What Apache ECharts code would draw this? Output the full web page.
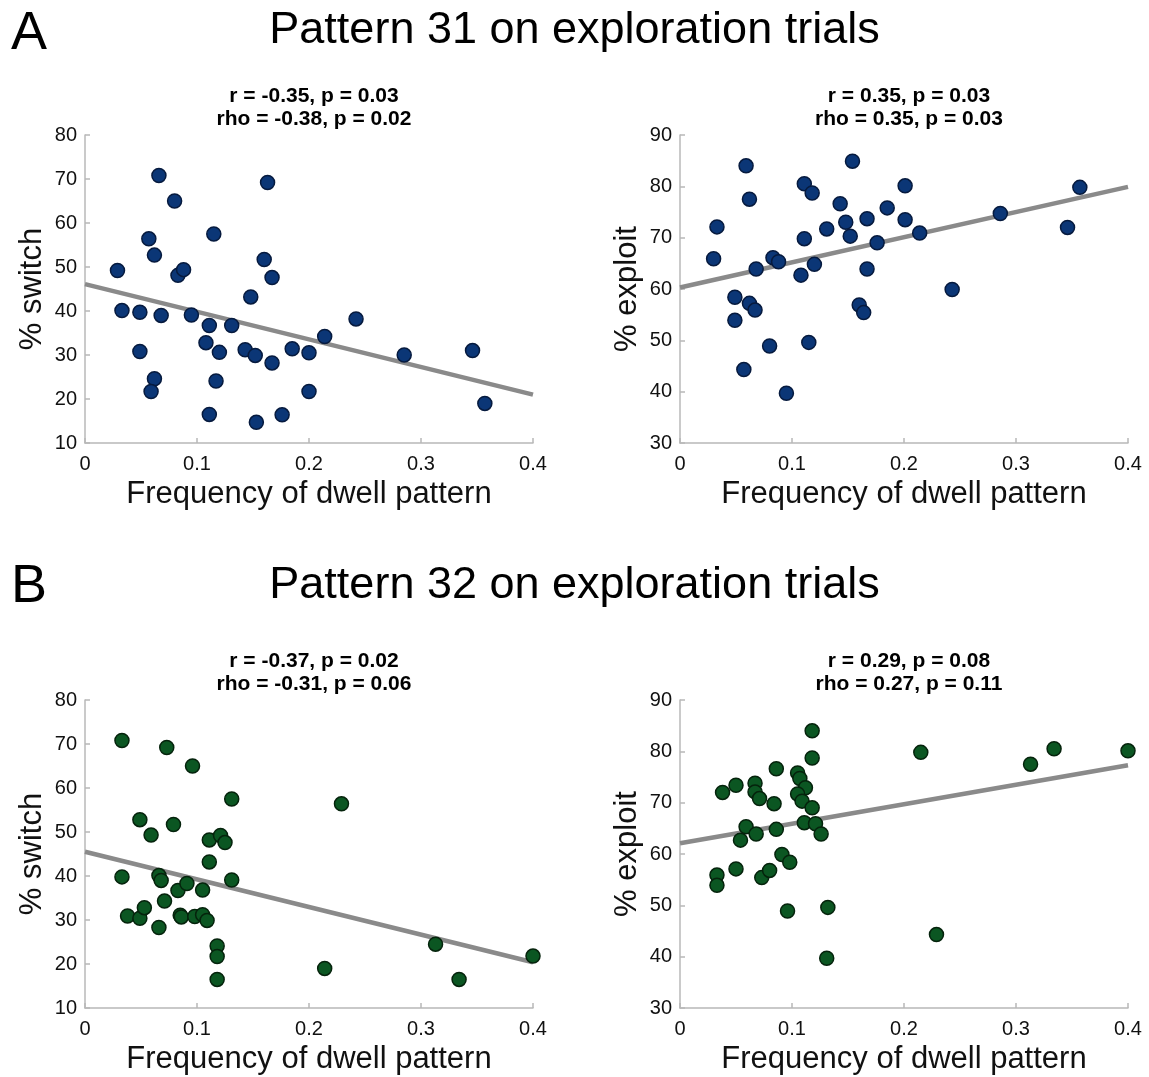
<!DOCTYPE html>
<html>
<head>
<meta charset="utf-8">
<script src="https://cdn.jsdelivr.net/npm/echarts@6/dist/echarts.min.js"></script>
<style>
  html, body { margin: 0; padding: 0; background: #fff; }
  #chart { width: 1149px; height: 1077px; }
</style>
</head>
<body>
<div id="chart"></div>
<script>
// Pattern 31: frequency of dwell pattern vs. behaviour
const p31Freq = [0.029, 0.033, 0.049, 0.049, 0.057, 0.062, 0.062, 0.059, 0.066, 0.068,
  0.080, 0.083, 0.088, 0.095, 0.111, 0.108, 0.115, 0.120, 0.117, 0.111,
  0.131, 0.143, 0.148, 0.152, 0.153, 0.160, 0.163, 0.167, 0.167, 0.176,
  0.185, 0.200, 0.200, 0.214, 0.242, 0.285, 0.346, 0.357];
const p31Switch = [49.2, 40.1, 39.7, 30.8, 56.4, 52.7, 24.6, 21.7, 70.8, 39.0,
  65.0, 48.1, 49.4, 39.1, 36.7, 32.8, 57.5, 30.6, 24.1, 16.5,
  36.7, 31.2, 43.2, 29.9, 14.7, 51.7, 69.2, 47.6, 28.2, 16.4,
  31.4, 30.5, 21.7, 34.2, 38.2, 30.0, 31.0, 19.0];

const p31FreqB = [0.030, 0.033, 0.049, 0.049, 0.059, 0.057, 0.062, 0.062, 0.067, 0.068,
  0.080, 0.083, 0.088, 0.095, 0.111, 0.118, 0.111, 0.108, 0.120, 0.115,
  0.131, 0.143, 0.148, 0.152, 0.154, 0.167, 0.167, 0.160, 0.164, 0.176,
  0.185, 0.201, 0.201, 0.214, 0.243, 0.286, 0.346, 0.357];
const p31Exploit = [65.9, 72.1, 58.4, 53.9, 84.0, 44.3, 77.5, 57.2, 55.9, 63.9,
  48.9, 66.1, 65.3, 39.7, 80.5, 78.7, 69.8, 62.7, 64.8, 49.6,
  71.7, 76.6, 73.0, 70.3, 84.9, 73.7, 63.9, 56.9, 55.4, 69.0,
  75.8, 80.1, 73.5, 70.9, 59.9, 74.7, 72.0, 79.8];

// Pattern 32
const p32Freq = [0.033, 0.033, 0.038, 0.049, 0.049, 0.053, 0.059, 0.066, 0.068, 0.066,
  0.071, 0.073, 0.079, 0.083, 0.085, 0.086, 0.091, 0.096, 0.098, 0.105,
  0.105, 0.109, 0.111, 0.111, 0.118, 0.118, 0.118, 0.121, 0.125, 0.131,
  0.131, 0.229, 0.214, 0.313, 0.334, 0.400];
const p32Switch = [70.8, 39.8, 30.9, 30.4, 52.8, 32.8, 49.3, 40.1, 39.0, 28.3,
  34.3, 69.2, 51.7, 36.7, 31.1, 30.7, 38.3, 65.0, 30.8, 31.2,
  36.8, 29.9, 43.2, 48.2, 24.1, 21.7, 16.5, 49.2, 47.6, 57.5,
  39.1, 56.4, 19.0, 24.5, 16.5, 21.8];

const p32FreqB = [0.033, 0.033, 0.038, 0.050, 0.050, 0.054, 0.059, 0.067, 0.067, 0.071,
  0.068, 0.073, 0.080, 0.084, 0.086, 0.086, 0.091, 0.098, 0.096, 0.105,
  0.107, 0.112, 0.105, 0.109, 0.111, 0.118, 0.118, 0.118, 0.121, 0.126,
  0.132, 0.131, 0.215, 0.229, 0.313, 0.334, 0.400];
const p32Exploit = [55.9, 53.9, 72.0, 73.4, 57.1, 62.7, 65.3, 73.8, 72.1, 70.8,
  63.9, 55.4, 56.8, 69.8, 76.6, 64.8, 59.9, 58.4, 48.9, 75.8,
  74.7, 72.9, 71.7, 70.3, 66.1, 84.0, 78.7, 69.0, 65.9, 63.9,
  49.6, 39.7, 79.8, 44.3, 77.5, 80.5, 80.1];

// Least-squares fit lines, endpoints at x = 0 and x = 0.4
const fitX = [0, 0.4];
const fit31Switch = [46.1, 21.0];
const fit31Exploit = [60.3, 79.9];
const fit32Switch = [45.5, 20.4];
const fit32Exploit = [62.1, 77.3];

// Axis ticks
const xTicks = [0, 0.1, 0.2, 0.3, 0.4];
const switchRange = [10, 80];
const exploitRange = [30, 90];

const statsText = [
  ['r = -0.35, p = 0.03', 'rho = -0.38, p = 0.02'],
  ['r = 0.35, p = 0.03', 'rho = 0.35, p = 0.03'],
  ['r = -0.37, p = 0.02', 'rho = -0.31, p = 0.06'],
  ['r = 0.29, p = 0.08', 'rho = 0.27, p = 0.11']
];

const FONT = 'Liberation Sans';
const navy = '#0b3676';
const navyEdge = '#061a3e';
const green = '#0b5622';
const greenEdge = '#05230c';

const grids = [
  { left: 85, top: 135, width: 448, height: 308 },
  { left: 680, top: 135, width: 448, height: 308 },
  { left: 85, top: 700, width: 448, height: 308 },
  { left: 680, top: 700, width: 448, height: 308 }
];

function xAxisFor(i) {
  return {
    gridIndex: i, type: 'value', min: xTicks[0], max: xTicks[xTicks.length - 1], interval: 0.1,
    name: 'Frequency of dwell pattern', nameLocation: 'middle', nameGap: 36,
    nameTextStyle: { fontFamily: FONT, fontSize: 31, color: '#111' },
    axisLine: { show: true, lineStyle: { color: '#b8b8b8', width: 1.5 } },
    axisTick: { show: true, inside: true, length: 5, lineStyle: { color: '#b8b8b8', width: 1.5 } },
    axisLabel: { fontFamily: FONT, fontSize: 20, color: '#111', margin: 11,
      formatter: v => (v === 0 ? '0' : String(+v.toFixed(1))) },
    splitLine: { show: false }
  };
}
function yAxisFor(i, range, label) {
  return {
    gridIndex: i, type: 'value', min: range[0], max: range[1], interval: 10,
    name: label, nameLocation: 'middle', nameGap: 37, nameRotate: 90,
    nameTextStyle: { fontFamily: FONT, fontSize: 31, color: '#111' },
    axisLine: { show: true, lineStyle: { color: '#b8b8b8', width: 1.5 } },
    axisTick: { show: true, inside: true, length: 5, lineStyle: { color: '#b8b8b8', width: 1.5 } },
    axisLabel: { fontFamily: FONT, fontSize: 20, color: '#111', margin: 8 },
    splitLine: { show: false }
  };
}
function zip(xs, ys) { return xs.map((x, k) => [x, ys[k]]); }
function scatter(i, xs, ys, fill, edge) {
  return {
    type: 'scatter', xAxisIndex: i, yAxisIndex: i, data: zip(xs, ys),
    symbolSize: 14, itemStyle: { color: fill, borderColor: edge, borderWidth: 1.5, opacity: 1 },
    z: 3, silent: true
  };
}
function fitLine(i, ys) {
  return {
    type: 'line', xAxisIndex: i, yAxisIndex: i, data: zip(fitX, ys),
    symbol: 'none', lineStyle: { color: '#8a8a8a', width: 4.5 }, z: 2, silent: true
  };
}

const titles = [
  { text: 'A', left: 6, top: 2, textStyle: { fontFamily: FONT, fontSize: 54, fontWeight: 'normal', color: '#000' } },
  { text: 'Pattern 31 on exploration trials', left: 'center', top: 3,
    textStyle: { fontFamily: FONT, fontSize: 45, fontWeight: 'normal', color: '#000' } },
  { text: 'B', left: 6, top: 555, textStyle: { fontFamily: FONT, fontSize: 54, fontWeight: 'normal', color: '#000' } },
  { text: 'Pattern 32 on exploration trials', left: 'center', top: 558,
    textStyle: { fontFamily: FONT, fontSize: 45, fontWeight: 'normal', color: '#000' } }
];
statsText.forEach((lines, i) => {
  const g = grids[i];
  titles.push({
    text: lines.join('\n'),
    left: g.left + g.width / 2, top: g.top - 55, textAlign: 'center',
    textStyle: { fontFamily: FONT, fontSize: 21, fontWeight: 'bold', color: '#000', lineHeight: 23 }
  });
});

const chart = echarts.init(document.getElementById('chart'), null, { renderer: 'canvas' });
chart.setOption({
  backgroundColor: '#fff',
  animation: false,
  title: titles,
  grid: grids,
  xAxis: [0, 1, 2, 3].map(xAxisFor),
  yAxis: [
    yAxisFor(0, switchRange, '% switch'),
    yAxisFor(1, exploitRange, '% exploit'),
    yAxisFor(2, switchRange, '% switch'),
    yAxisFor(3, exploitRange, '% exploit')
  ],
  series: [
    fitLine(0, fit31Switch), scatter(0, p31Freq, p31Switch, navy, navyEdge),
    fitLine(1, fit31Exploit), scatter(1, p31FreqB, p31Exploit, navy, navyEdge),
    fitLine(2, fit32Switch), scatter(2, p32Freq, p32Switch, green, greenEdge),
    fitLine(3, fit32Exploit), scatter(3, p32FreqB, p32Exploit, green, greenEdge)
  ]
});
</script>
</body>
</html>
